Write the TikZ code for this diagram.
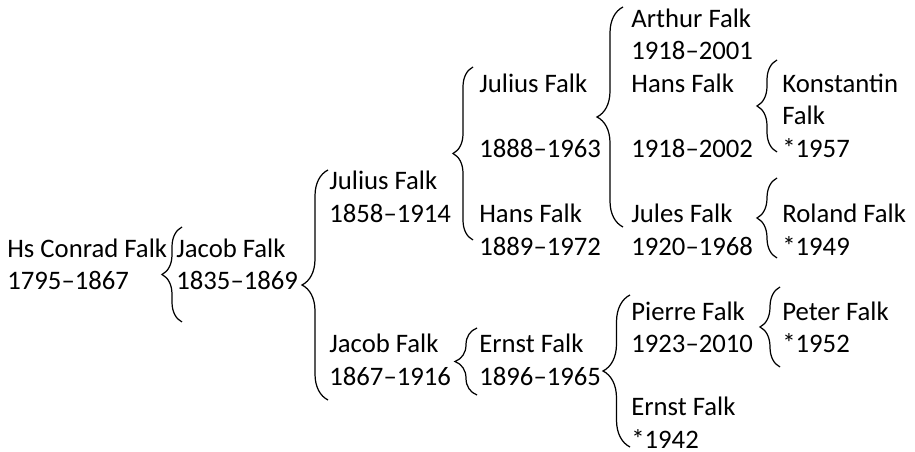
\documentclass[tikz,border=0pt]{standalone}
\usepackage{fontspec}
\setmainfont{Carlito}
\usetikzlibrary{decorations.pathreplacing}

\begin{document}
\begin{tikzpicture}[
        person/.style={anchor=north west, inner sep=0pt, align=left,
            font=\fontsize{15.2}{18.53}\selectfont},
        fam/.style={decorate, decoration={brace, amplitude=#1}, line width=0.7pt},
        fam/.default=0.4cm]
    \useasboundingbox (0,0) rectangle (18.3,9.04);
    % people, column by column
    \node[person] (conrad) at (0.14,4.356) {\strut Hs Conrad Falk\\1795--1867};
    \node[person] (jacob1835) at (3.52,4.356) {\strut Jacob Falk\\1835--1869};
    \node[person] (julius1858) at (6.58,5.706) {\strut Julius Falk\\1858--1914};
    \node[person] (jacob1867) at (6.58,2.45) {\strut Jacob Falk\\1867--1916};
    \node[person] (julius1888) at (9.58,7.66) {\strut Julius Falk\\[0.6512cm]1888--1963};
    \node[person] (hans1889) at (9.58,5.054) {\strut Hans Falk\\1889--1972};
    \node[person] (ernst1896) at (9.58,2.45) {\strut Ernst Falk\\1896--1965};
    \node[person] (arthur) at (12.62,8.962) {\strut Arthur Falk\\1918--2001};
    \node[person] (hans1918) at (12.62,7.66) {\strut Hans Falk\\[0.6512cm]1918--2002};
    \node[person] (jules) at (12.62,5.054) {\strut Jules Falk\\1920--1968};
    \node[person] (pierre) at (12.62,3.102) {\strut Pierre Falk\\1923--2010};
    \node[person] (ernst1942) at (12.62,1.19) {\strut Ernst Falk\\*1942};
    \node[person] (konstantin) at (15.64,7.66) {\strut Konstantin\\Falk\\*1957};
    \node[person] (roland) at (15.64,5.054) {\strut Roland Falk\\*1949};
    \node[person] (peter) at (15.64,3.102) {\strut Peter Falk\\*1952};
    % brace ends
    \coordinate (conrad-t) at (3.64,4.5);
    \coordinate (conrad-b) at (3.64,2.6);
    \coordinate (jacob1835-t) at (6.56,5.64);
    \coordinate (jacob1835-b) at (6.56,1.04);
    \coordinate (julius1858-t) at (9.46,7.7);
    \coordinate (julius1858-b) at (9.46,4.24);
    \coordinate (jacob1867-t) at (9.54,2.48);
    \coordinate (jacob1867-b) at (9.54,1.14);
    \coordinate (julius1888-t) at (12.46,8.9);
    \coordinate (julius1888-b) at (12.46,4.5);
    \coordinate (ernst1896-t) at (12.6,3.14);
    \coordinate (ernst1896-b) at (12.6,0.1);
    \coordinate (hans1918-t) at (15.54,7.84);
    \coordinate (hans1918-b) at (15.54,6.0);
    \coordinate (jules-t) at (15.54,5.48);
    \coordinate (jules-b) at (15.54,3.88);
    \coordinate (pierre-t) at (15.6,3.3);
    \coordinate (pierre-b) at (15.6,1.7);
    % braces
    \draw[fam] (conrad-b) -- (conrad-t);
    \draw[fam=0.52cm] (jacob1835-b) -- (jacob1835-t);
    \draw[fam] (julius1858-b) -- (julius1858-t);
    \draw[fam=0.44cm] (jacob1867-b) -- (jacob1867-t);
    \draw[fam=0.52cm] (julius1888-b) -- (julius1888-t);
    \draw[fam=0.54cm] (ernst1896-b) -- (ernst1896-t);
    \draw[fam] (hans1918-b) -- (hans1918-t);
    \draw[fam] (jules-b) -- (jules-t);
    \draw[fam] (pierre-b) -- (pierre-t);
\end{tikzpicture}
\end{document}
